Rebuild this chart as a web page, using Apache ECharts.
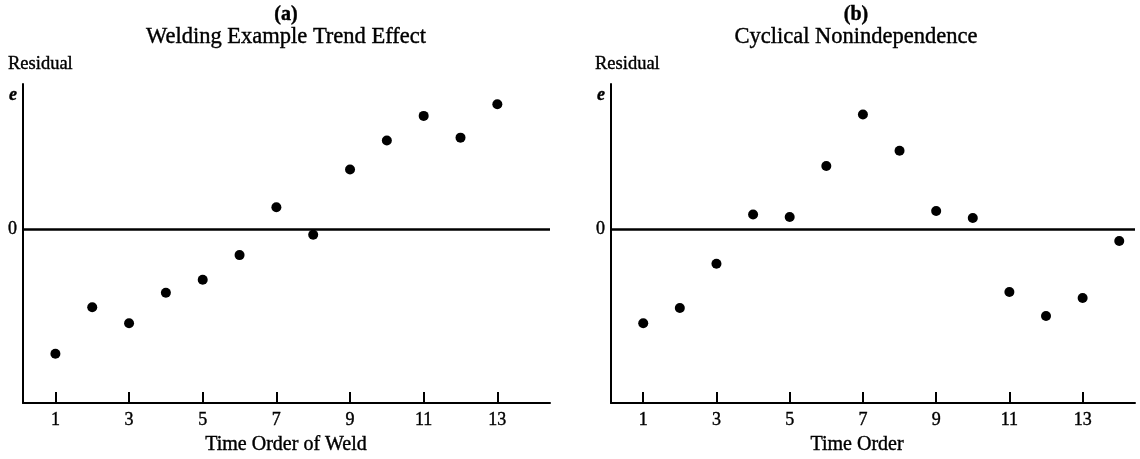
<!DOCTYPE html>
<html>
<head>
<meta charset="utf-8">
<style>
  html, body { margin: 0; padding: 0; background: #fff; }
  #chart { width: 1140px; height: 459px; }
</style>
<script src="https://cdn.jsdelivr.net/npm/echarts@6/dist/echarts.min.js"></script>
</head>
<body>
<div id="chart"></div>
<script>
// Residuals plotted against time order, two patterns of nonindependence.
const weldOrder = [1, 2, 3, 4, 5, 6, 7, 8, 9, 10, 11, 12, 13];
const weldResidual = [-0.86, -0.54, -0.65, -0.44, -0.35, -0.18, 0.15, -0.04, 0.41, 0.61, 0.78, 0.63, 0.86];

const cycleOrder = [1, 2, 3, 4, 5, 6, 7, 8, 9, 10, 11, 12, 13, 14];
const cycleResidual = [-0.65, -0.545, -0.24, 0.10, 0.083, 0.435, 0.79, 0.54, 0.124, 0.076, -0.435, -0.60, -0.476, -0.083];

const xTickValues = [1, 3, 5, 7, 9, 11, 13];
const yLabelValues = [0, 0.92];   // zero line and the "e" marker at the top

const SERIF = '"Liberation Serif", "DejaVu Serif", serif';
const INK = '#000';

function pairs(xs, ys) { return xs.map((x, i) => [x, ys[i]]); }

function makeX(gridIndex) {
  return {
    type: 'value', gridIndex, min: 0.12, max: 14.43,
    axisLine: { onZero: false, lineStyle: { color: INK, width: 2 } },
    axisTick: { show: true, inside: true, length: 11, customValues: xTickValues,
                lineStyle: { color: INK, width: 2 } },
    axisLabel: { customValues: xTickValues, color: INK, fontFamily: SERIF,
                 fontSize: 18, margin: 8, textBorderColor: INK, textBorderWidth: 0.4 },
    splitLine: { show: false }
  };
}

function makeY(gridIndex) {
  return {
    type: 'value', gridIndex, min: -1.2, max: 1.0,
    axisLine: { show: true, onZero: false, lineStyle: { color: INK, width: 2 } },
    axisTick: { show: false },
    axisLabel: {
      customValues: yLabelValues, color: INK, fontFamily: SERIF, fontSize: 18, margin: 6,
      textBorderColor: INK, textBorderWidth: 0.4,
      formatter: v => (v === 0 ? '0' : '{e|e}'),
      rich: { e: { fontStyle: 'italic', fontWeight: 'bold', fontFamily: SERIF, fontSize: 18, color: INK } }
    },
    splitLine: { show: false }
  };
}

function makeSeries(idx, data) {
  return {
    type: 'scatter', xAxisIndex: idx, yAxisIndex: idx,
    data, symbol: 'circle', symbolSize: 10,
    itemStyle: { color: '#000', opacity: 1 },
    markLine: {
      silent: true, symbol: 'none', label: { show: false },
      lineStyle: { color: '#000', width: 2.6, type: 'solid', opacity: 1 },
      data: [{ yAxis: 0 }]
    }
  };
}

function label(str, x, y, font, align) {
  return { type: 'text', x, y,
           style: { text: str, fill: INK, font: font + ' ' + SERIF,
                    stroke: INK, lineWidth: 0.4,
                    align: align || 'center', verticalAlign: 'middle' } };
}

const chart = echarts.init(document.getElementById('chart'), null, { renderer: 'canvas' });
chart.setOption({
  backgroundColor: '#fff',
  animation: false,
  grid: [
    { left: 23, top: 84, width: 527, height: 319 },
    { left: 611, top: 84, width: 524, height: 319 }
  ],
  xAxis: [makeX(0), makeX(1)],
  yAxis: [makeY(0), makeY(1)],
  series: [makeSeries(0, pairs(weldOrder, weldResidual)), makeSeries(1, pairs(cycleOrder, cycleResidual))],
  graphic: [
    label('(a)', 286, 15, 'bold 20px'),
    label('Welding Example Trend Effect', 286, 37, '22.5px'),
    label('Residual', 8, 64, '18.5px', 'left'),
    label('Time Order of Weld', 286, 445, '20px'),

    label('(b)', 856, 15, 'bold 20px'),
    label('Cyclical Nonindependence', 856, 37, '22.5px'),
    label('Residual', 595, 64, '18.5px', 'left'),
    label('Time Order', 857, 445, '20px')
  ]
});
</script>
</body>
</html>
